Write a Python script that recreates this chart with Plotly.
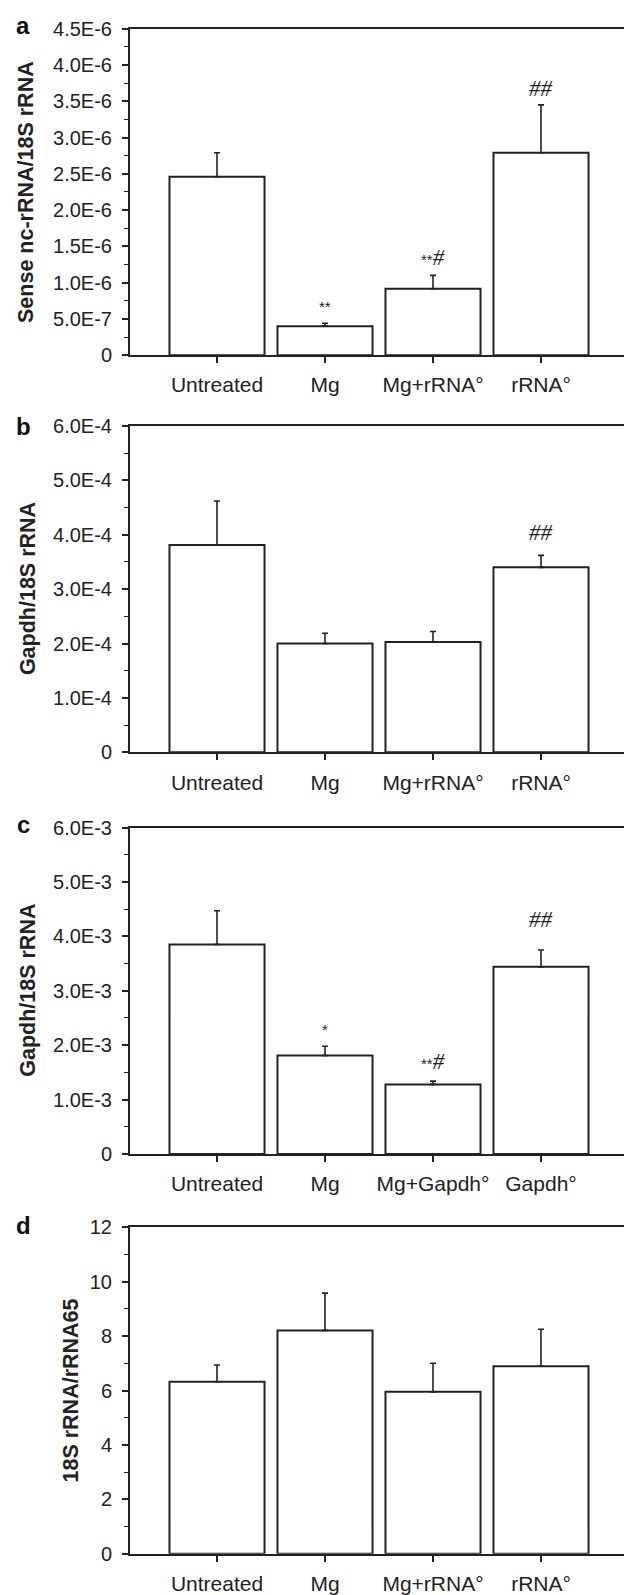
import plotly.graph_objects as go

# ---------------- data ----------------
cats_rrna = ["Untreated", "Mg", "Mg+rRNA°", "rRNA°"]
cats_gapdh = ["Untreated", "Mg", "Mg+Gapdh°", "Gapdh°"]

a_mean = [2.46e-6, 0.40e-6, 0.915e-6, 2.79e-6]
a_err = [0.33e-6, 0.04e-6, 0.185e-6, 0.66e-6]
a_tickvals = [0, 0.5e-6, 1.0e-6, 1.5e-6, 2.0e-6, 2.5e-6, 3.0e-6, 3.5e-6, 4.0e-6, 4.5e-6]
a_ticktext = ["0", "5.0E-7", "1.0E-6", "1.5E-6", "2.0E-6", "2.5E-6", "3.0E-6", "3.5E-6", "4.0E-6", "4.5E-6"]
a_title = "Sense nc-rRNA/18S rRNA"
a_marks = [(1, "**", "", 6),
           (2, "**", "#", 3),
           (3, "", "##", 2)]

b_mean = [3.81e-4, 2.00e-4, 2.03e-4, 3.40e-4]
b_err = [0.81e-4, 0.19e-4, 0.19e-4, 0.22e-4]
b_tickvals = [0, 1e-4, 2e-4, 3e-4, 4e-4, 5e-4, 6e-4]
b_ticktext = ["0", "1.0E-4", "2.0E-4", "3.0E-4", "4.0E-4", "5.0E-4", "6.0E-4"]
b_title = "Gapdh/18S rRNA"
b_marks = [(3, "", "##", 8)]

c_mean = [3.85e-3, 1.81e-3, 1.28e-3, 3.44e-3]
c_err = [0.62e-3, 0.17e-3, 0.06e-3, 0.31e-3]
c_tickvals = [0, 1e-3, 2e-3, 3e-3, 4e-3, 5e-3, 6e-3]
c_ticktext = ["0", "1.0E-3", "2.0E-3", "3.0E-3", "4.0E-3", "5.0E-3", "6.0E-3"]
c_title = "Gapdh/18S rRNA"
c_marks = [(1, "*", "", 6),
           (2, "**", "#", 5),
           (3, "", "##", 16)]

d_mean = [6.32, 8.21, 5.95, 6.89]
d_err = [0.62, 1.37, 1.05, 1.36]
d_tickvals = [0, 2, 4, 6, 8, 10, 12]
d_ticktext = ["0", "2", "4", "6", "8", "10", "12"]
d_title = "18S rRNA/rRNA65"
d_marks = []

# ---------------- layout helpers ----------------
W, H = 624, 1595
INK = "#222222"
FONT = "Arial, Liberation Sans, Helvetica, sans-serif"
SERIF = "Liberation Serif, Times New Roman, serif"

def py(px):
    return 1 - px / H

panels = [
    dict(letter="a", cats=cats_rrna, mean=a_mean, err=a_err, tv=a_tickvals, tt=a_ticktext,
         title=a_title, marks=a_marks, top=18, bot=349, title_x=26, letter_y=15),
    dict(letter="b", cats=cats_rrna, mean=b_mean, err=b_err, tv=b_tickvals, tt=b_ticktext,
         title=b_title, marks=b_marks, top=420.7, bot=751.7, title_x=28, letter_y=421),
    dict(letter="c", cats=cats_gapdh, mean=c_mean, err=c_err, tv=c_tickvals, tt=c_ticktext,
         title=c_title, marks=c_marks, top=828, bot=1159, title_x=28, letter_y=825),
    dict(letter="d", cats=cats_rrna, mean=d_mean, err=d_err, tv=d_tickvals, tt=d_ticktext,
         title=d_title, marks=d_marks, top=1233.3, bot=1564.3, title_x=71, letter_y=1231),
]

x_left = 130
cat_step = 108
first_center = 217
x_range = [-(first_center - x_left) / cat_step, (W - first_center) / cat_step]

def mark_text(stars, hashes):
    s = ""
    if stars:
        s += "<span style='font-family:Arial;font-size:15px'>" + stars + "</span>"
    if hashes:
        s += "<i>" + hashes + "</i>"
    return s

fig = go.Figure()
annotations = []
layout = {}

for i, p in enumerate(panels):
    n = "" if i == 0 else str(i + 1)
    xa, ya = "x" + n, "y" + n
    fig.add_trace(go.Bar(
        x=p["cats"], y=p["mean"], xaxis=xa, yaxis=ya, width=0.88,
        marker=dict(color="white", line=dict(color=INK, width=2)),
        error_y=dict(type="data", array=p["err"], arrayminus=[0] * len(p["err"]),
                     symmetric=False, color=INK, thickness=1.6, width=3),
        hoverinfo="skip",
    ))
    tv = p["tv"]
    minor_vals = [(tv[k] + tv[k + 1]) / 2 for k in range(len(tv) - 1)]
    layout["xaxis" + n] = dict(
        domain=[x_left / W, 1], anchor=ya, type="category", range=x_range,
        showline=True, linewidth=2, linecolor=INK, mirror=True,
        ticks="outside", ticklen=6, tickwidth=1.5, tickcolor=INK,
        ticklabelstandoff=4,
        tickfont=dict(family=FONT, size=21, color=INK),
        showgrid=False, zeroline=False, fixedrange=True,
    )
    layout["yaxis" + n] = dict(
        domain=[py(p["bot"]), py(p["top"])], anchor=xa, range=[0, tv[-1]],
        tickmode="array", tickvals=tv, ticktext=p["tt"],
        showline=True, linewidth=2, linecolor=INK, mirror=False,
        ticks="outside", ticklen=6, tickwidth=1.5, tickcolor=INK,
        ticklabelstandoff=6,
        tickfont=dict(family=FONT, size=20, color=INK),
        minor=dict(tickmode="array", tickvals=minor_vals, ticks="outside",
                   ticklen=4, tickwidth=1.2, tickcolor=INK),
        showgrid=False, zeroline=False, fixedrange=True,
    )
    annotations.append(dict(
        text="<b>" + p["title"] + "</b>", textangle=-90, xref="paper", yref="paper",
        x=p["title_x"] / W, y=py((p["top"] + p["bot"]) / 2), xanchor="center", yanchor="middle",
        showarrow=False, font=dict(family=FONT, size=21.5, color=INK),
    ))
    annotations.append(dict(
        text="<b>" + p["letter"] + "</b>", xref="paper", yref="paper",
        x=23 / W, y=py(p["letter_y"]), xanchor="center", yanchor="middle",
        showarrow=False, font=dict(family=FONT, size=24, color="#111111"),
    ))
    for idx, stars, hashes, shift in p["marks"]:
        annotations.append(dict(
            text=mark_text(stars, hashes), xref=xa, yref=ya, x=idx,
            y=p["mean"][idx] + p["err"][idx],
            xanchor="center", yanchor="bottom", yshift=shift, showarrow=False,
            font=dict(family=SERIF, size=23, color=INK),
        ))

fig.update_layout(
    width=W, height=H, margin=dict(l=0, r=0, t=0, b=0),
    plot_bgcolor="white", paper_bgcolor="white", showlegend=False,
    annotations=annotations, **layout,
)

fig.write_html(
    "out.html",
    config={"displayModeBar": False},
    post_script="document.body.style.margin='0';document.body.style.overflow='hidden';"
                "document.documentElement.style.overflow='hidden';",
)
